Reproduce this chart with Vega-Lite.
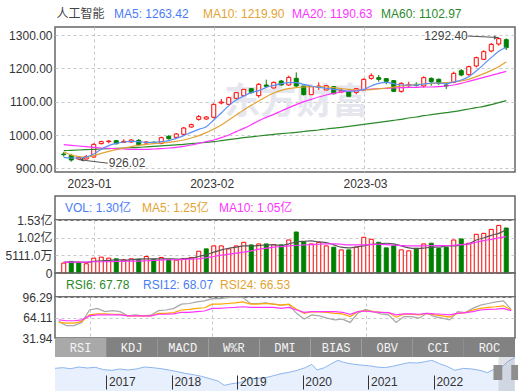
{
"$schema": "https://vega.github.io/schema/vega-lite/v6.json",
"background": "white",
"padding": {"left": 4, "top": 0, "right": 1, "bottom": 0},
"spacing": 0,
"bounds": "flush",
"config": {
  "view": {"stroke": "#666666", "strokeWidth": 1.5},
  "font": "Liberation Sans, Noto Sans CJK SC",
  "axis": {"domain": false, "ticks": false, "tickSize": 0, "labelFont": "Liberation Sans, Noto Sans CJK SC", "labelFontSize": 12, "labelColor": "#333333", "labelPadding": 3, "labelOverlap": false, "labelBound": false, "gridColor": "#c8c8c8", "gridDash": [3, 3], "gridWidth": 1},
  "axisY": {"labelFlush": false},
  "text": {"font": "Liberation Sans, Noto Sans CJK SC", "fontSize": 12}
},
"datasets": {
"k": [
{"i":0,"d":"2022-12-27","o":943,"h":949,"l":935,"c":941,"v":0.287,"vu":"up","m5":933,"m10":950,"m20":971,"m60":953,"vm5":0.316,"vm10":0.306,"r6":58.0,"r12":56.4,"r24":60.5},
{"i":1,"d":"2022-12-28","o":939,"h":942,"l":920,"c":925,"v":0.335,"vu":"dn","m5":931,"m10":940,"m20":969,"m60":954,"vm5":0.316,"vm10":0.316,"r6":51.3,"r12":55.4,"r24":59.0},
{"i":2,"d":"2022-12-29","o":928,"h":936,"l":926.02,"c":933,"v":0.306,"vu":"dn","m5":931,"m10":935,"m20":967,"m60":955,"vm5":0.316,"vm10":0.316,"r6":51.3,"r12":55.4,"r24":59.0},
{"i":3,"d":"2022-12-30","o":928,"h":940,"l":927,"c":935,"v":0.268,"vu":"up","m5":934,"m10":933,"m20":965,"m60":956,"vm5":0.306,"vm10":0.316,"r6":56.4,"r12":58.0,"r24":60.5},
{"i":4,"d":"2023-01-03","o":934,"h":975,"l":932,"c":972,"v":0.43,"vu":"up","m5":943,"m10":938,"m20":963,"m60":957,"vm5":0.335,"vm10":0.325,"r6":75.9,"r12":68.2,"r24":66.7},
{"i":5,"d":"2023-01-04","o":974,"h":983,"l":972,"c":980,"v":0.459,"vu":"up","m5":957,"m10":945,"m20":961,"m60":958,"vm5":0.354,"vm10":0.325,"r6":78.4,"r12":69.7,"r24":68.2},
{"i":6,"d":"2023-01-05","o":980,"h":984,"l":975,"c":982,"v":0.43,"vu":"up","m5":968,"m10":951,"m20":960,"m60":959,"vm5":0.363,"vm10":0.325,"r6":73.3,"r12":69.7,"r24":68.2},
{"i":7,"d":"2023-01-06","o":983,"h":985,"l":971,"c":974,"v":0.411,"vu":"dn","m5":975,"m10":956,"m20":959,"m60":960,"vm5":0.383,"vm10":0.335,"r6":74.8,"r12":69.2,"r24":68.2},
{"i":8,"d":"2023-01-09","o":978,"h":987,"l":976,"c":981,"v":0.383,"vu":"up","m5":979,"m10":961,"m20":958,"m60":961,"vm5":0.373,"vm10":0.335,"r6":73.3,"r12":69.2,"r24":68.2},
{"i":9,"d":"2023-01-10","o":979,"h":987,"l":977,"c":985,"v":0.411,"vu":"up","m5":981,"m10":965,"m20":957,"m60":962,"vm5":0.383,"vm10":0.344,"r6":66.7,"r12":66.7,"r24":66.7},
{"i":10,"d":"2023-01-11","o":984,"h":988,"l":968,"c":971,"v":0.40,"vu":"dn","m5":980,"m10":969,"m20":957,"m60":963,"vm5":0.402,"vm10":0.344,"r6":68.2,"r12":66.7,"r24":66.7},
{"i":11,"d":"2023-01-12","o":976,"h":982,"l":974,"c":979,"v":0.478,"vu":"up","m5":978,"m10":972,"m20":957,"m60":964.5,"vm5":0.411,"vm10":0.354,"r6":66.7,"r12":66.7,"r24":66.7},
{"i":12,"d":"2023-01-13","o":978,"h":981,"l":973,"c":976,"v":0.40,"vu":"dn","m5":978,"m10":974,"m20":958,"m60":966,"vm5":0.411,"vm10":0.363,"r6":67.7,"r12":66.7,"r24":66.7},
{"i":13,"d":"2023-01-16","o":975,"h":995,"l":972,"c":992,"v":0.449,"vu":"up","m5":980,"m10":976,"m20":959,"m60":967.5,"vm5":0.411,"vm10":0.373,"r6":74.8,"r12":70.7,"r24":69.2},
{"i":14,"d":"2023-01-17","o":996,"h":1000,"l":986,"c":989,"v":0.383,"vu":"dn","m5":983,"m10":978,"m20":961,"m60":969,"vm5":0.411,"vm10":0.383,"r6":75.9,"r12":70.7,"r24":69.2},
{"i":15,"d":"2023-01-18","o":993,"h":1006,"l":991,"c":1003,"v":0.373,"vu":"up","m5":990,"m10":981,"m20":963,"m60":970.5,"vm5":0.402,"vm10":0.383,"r6":78.4,"r12":71.8,"r24":69.7},
{"i":16,"d":"2023-01-19","o":1002,"h":1024,"l":1000,"c":1021,"v":0.42,"vu":"up","m5":998,"m10":985,"m20":966,"m60":972,"vm5":0.411,"vm10":0.392,"r6":85.1,"r12":75.9,"r24":72.3},
{"i":17,"d":"2023-01-20","o":1024,"h":1034,"l":1022,"c":1031,"v":0.449,"vu":"up","m5":1008,"m10":991,"m20":970,"m60":974,"vm5":0.43,"vm10":0.402,"r6":86.1,"r12":76.9,"r24":72.3},
{"i":18,"d":"2023-01-30","o":1047,"h":1060,"l":1043,"c":1055,"v":0.631,"vu":"up","m5":1017,"m10":998,"m20":975,"m60":976,"vm5":0.478,"vm10":0.411,"r6":88.6,"r12":78.4,"r24":73.3},
{"i":19,"d":"2023-01-31","o":1048,"h":1057,"l":1046,"c":1054,"v":0.698,"vu":"dn","m5":1025,"m10":1007,"m20":980,"m60":978,"vm5":0.526,"vm10":0.44,"r6":90.2,"r12":79.4,"r24":74.3},
{"i":20,"d":"2023-02-01","o":1053,"h":1095,"l":1050,"c":1092,"v":0.784,"vu":"up","m5":1045,"m10":1018,"m20":985,"m60":980,"vm5":0.602,"vm10":0.478,"r6":93.7,"r12":85.1,"r24":78.4},
{"i":21,"d":"2023-02-02","o":1096,"h":1108,"l":1092,"c":1099,"v":0.784,"vu":"up","m5":1066,"m10":1030,"m20":992,"m60":983,"vm5":0.669,"vm10":0.516,"r6":93.7,"r12":85.1,"r24":78.4},
{"i":22,"d":"2023-02-03","o":1092,"h":1115,"l":1090,"c":1112,"v":0.698,"vu":"up","m5":1088,"m10":1045,"m20":1000,"m60":986,"vm5":0.717,"vm10":0.545,"r6":95.3,"r12":86.1,"r24":79.4},
{"i":23,"d":"2023-02-06","o":1110,"h":1130,"l":1107,"c":1127,"v":0.784,"vu":"up","m5":1105,"m10":1060,"m20":1010,"m60":989,"vm5":0.746,"vm10":0.574,"r6":96.3,"r12":87.1,"r24":79.9},
{"i":24,"d":"2023-02-07","o":1118,"h":1142,"l":1115,"c":1137,"v":0.889,"vu":"up","m5":1117,"m10":1075,"m20":1020,"m60":992,"vm5":0.784,"vm10":0.602,"r6":95.3,"r12":88.6,"r24":81.0},
{"i":25,"d":"2023-02-08","o":1139,"h":1141,"l":1124,"c":1127,"v":0.813,"vu":"dn","m5":1127,"m10":1089,"m20":1031,"m60":994.5,"vm5":0.784,"vm10":0.641,"r6":86.1,"r12":85.1,"r24":79.9},
{"i":26,"d":"2023-02-09","o":1118,"h":1156,"l":1112,"c":1152,"v":0.841,"vu":"up","m5":1133,"m10":1102,"m20":1043,"m60":997,"vm5":0.794,"vm10":0.689,"r6":86.1,"r12":85.1,"r24":79.9},
{"i":27,"d":"2023-02-10","o":1150,"h":1166,"l":1143,"c":1146,"v":0.841,"vu":"dn","m5":1143,"m10":1115,"m20":1053,"m60":999.5,"vm5":0.813,"vm10":0.717,"r6":87.1,"r12":86.1,"r24":79.9},
{"i":28,"d":"2023-02-13","o":1141,"h":1160,"l":1139,"c":1158,"v":0.822,"vu":"up","m5":1149,"m10":1126,"m20":1062,"m60":1002,"vm5":0.813,"vm10":0.746,"r6":85.1,"r12":85.1,"r24":79.9},
{"i":29,"d":"2023-02-14","o":1162,"h":1165,"l":1147,"c":1150,"v":0.813,"vu":"dn","m5":1154,"m10":1134,"m20":1072,"m60":1004,"vm5":0.803,"vm10":0.765,"r6":83.5,"r12":83.5,"r24":78.4},
{"i":30,"d":"2023-02-15","o":1150,"h":1178,"l":1148,"c":1173,"v":0.956,"vu":"up","m5":1157,"m10":1139,"m20":1082,"m60":1006,"vm5":0.842,"vm10":0.784,"r6":84.5,"r12":85.1,"r24":79.9},
{"i":31,"d":"2023-02-16","o":1170,"h":1188,"l":1143,"c":1147,"v":1.186,"vu":"dn","m5":1157,"m10":1142,"m20":1091,"m60":1008,"vm5":0.899,"vm10":0.803,"r6":70.7,"r12":76.9,"r24":75.9},
{"i":32,"d":"2023-02-17","o":1147,"h":1149,"l":1118,"c":1121,"v":0.908,"vu":"dn","m5":1152,"m10":1144,"m20":1100,"m60":1010.5,"vm5":0.918,"vm10":0.813,"r6":61.6,"r12":70.7,"r24":72.3},
{"i":33,"d":"2023-02-20","o":1121,"h":1150,"l":1116,"c":1145,"v":0.841,"vu":"up","m5":1147,"m10":1145,"m20":1107,"m60":1013,"vm5":0.928,"vm10":0.822,"r6":68.2,"r12":73.3,"r24":73.3},
{"i":34,"d":"2023-02-21","o":1143,"h":1158,"l":1133,"c":1147,"v":0.889,"vu":"up","m5":1143,"m10":1145,"m20":1114,"m60":1015,"vm5":0.899,"vm10":0.832,"r6":66.7,"r12":72.8,"r24":73.3},
{"i":35,"d":"2023-02-22","o":1135,"h":1150,"l":1128,"c":1148,"v":0.784,"vu":"up","m5":1140,"m10":1144,"m20":1120,"m60":1018,"vm5":0.88,"vm10":0.842,"r6":63.1,"r12":72.3,"r24":73.3},
{"i":36,"d":"2023-02-23","o":1145,"h":1147,"l":1121,"c":1124,"v":0.746,"vu":"dn","m5":1137,"m10":1142,"m20":1125,"m60":1020.5,"vm5":0.813,"vm10":0.842,"r6":60.5,"r12":70.7,"r24":73.3},
{"i":37,"d":"2023-02-24","o":1129,"h":1140,"l":1125,"c":1134,"v":0.669,"vu":"up","m5":1135,"m10":1139,"m20":1129,"m60":1023,"vm5":0.746,"vm10":0.832,"r6":61.6,"r12":69.7,"r24":72.3},
{"i":38,"d":"2023-02-27","o":1129,"h":1132,"l":1112,"c":1116,"v":0.669,"vu":"dn","m5":1131,"m10":1137,"m20":1132,"m60":1026,"vm5":0.727,"vm10":0.813,"r6":56.4,"r12":65.6,"r24":69.2},
{"i":39,"d":"2023-02-28","o":1128,"h":1142,"l":1122,"c":1139,"v":0.746,"vu":"up","m5":1132,"m10":1135,"m20":1134,"m60":1029,"vm5":0.755,"vm10":0.813,"r6":70.7,"r12":73.3,"r24":73.3},
{"i":40,"d":"2023-03-01","o":1135,"h":1170,"l":1133,"c":1167,"v":1.033,"vu":"up","m5":1137,"m10":1135,"m20":1136,"m60":1032,"vm5":0.784,"vm10":0.813,"r6":76.9,"r12":74.8,"r24":74.3},
{"i":41,"d":"2023-03-02","o":1170,"h":1185,"l":1166,"c":1178,"v":0.975,"vu":"up","m5":1147,"m10":1136,"m20":1138,"m60":1035,"vm5":0.832,"vm10":0.822,"r6":73.3,"r12":73.3,"r24":72.8},
{"i":42,"d":"2023-03-03","o":1172,"h":1180,"l":1160,"c":1167,"v":0.889,"vu":"dn","m5":1155,"m10":1139,"m20":1139,"m60":1038,"vm5":0.842,"vm10":0.832,"r6":69.7,"r12":72.3,"r24":72.3},
{"i":43,"d":"2023-03-06","o":1169,"h":1171,"l":1152,"c":1161,"v":0.727,"vu":"dn","m5":1158,"m10":1141,"m20":1140,"m60":1041,"vm5":0.861,"vm10":0.822,"r6":68.2,"r12":71.8,"r24":71.8},
{"i":44,"d":"2023-03-07","o":1163,"h":1165,"l":1129,"c":1131,"v":0.794,"vu":"dn","m5":1154,"m10":1144,"m20":1141,"m60":1044,"vm5":0.842,"vm10":0.803,"r6":56.4,"r12":64.6,"r24":68.2},
{"i":45,"d":"2023-03-08","o":1131,"h":1158,"l":1127,"c":1155,"v":0.669,"vu":"up","m5":1150,"m10":1147,"m20":1142,"m60":1047,"vm5":0.784,"vm10":0.794,"r6":65.6,"r12":69.2,"r24":69.7},
{"i":46,"d":"2023-03-09","o":1148,"h":1160,"l":1142,"c":1151,"v":0.641,"vu":"up","m5":1150,"m10":1149,"m20":1143,"m60":1051,"vm5":0.727,"vm10":0.784,"r6":65.6,"r12":69.2,"r24":69.7},
{"i":47,"d":"2023-03-10","o":1152,"h":1158,"l":1145,"c":1149,"v":0.717,"vu":"dn","m5":1150,"m10":1151,"m20":1143,"m60":1054,"vm5":0.708,"vm10":0.784,"r6":63.1,"r12":68.2,"r24":69.2},
{"i":48,"d":"2023-03-13","o":1147,"h":1176,"l":1142,"c":1172,"v":0.841,"vu":"up","m5":1153,"m10":1153,"m20":1144,"m60":1058,"vm5":0.717,"vm10":0.784,"r6":70.7,"r12":70.7,"r24":70.7},
{"i":49,"d":"2023-03-14","o":1170,"h":1173,"l":1148,"c":1160,"v":0.861,"vu":"dn","m5":1156,"m10":1155,"m20":1144,"m60":1061,"vm5":0.746,"vm10":0.794,"r6":65.6,"r12":68.2,"r24":69.7},
{"i":50,"d":"2023-03-15","o":1167,"h":1170,"l":1150,"c":1155,"v":0.708,"vu":"dn","m5":1156,"m10":1156,"m20":1145,"m60":1064,"vm5":0.746,"vm10":0.794,"r6":63.1,"r12":66.7,"r24":69.2},
{"i":51,"d":"2023-03-16","o":1150,"h":1157,"l":1138,"c":1147,"v":0.746,"vu":"dn","m5":1154,"m10":1157,"m20":1147,"m60":1067,"vm5":0.784,"vm10":0.794,"r6":60.5,"r12":64.6,"r24":68.2},
{"i":52,"d":"2023-03-17","o":1158,"h":1190,"l":1155,"c":1185,"v":0.956,"vu":"up","m5":1159,"m10":1159,"m20":1150,"m60":1070,"vm5":0.784,"vm10":0.803,"r6":73.3,"r12":70.7,"r24":70.7},
{"i":53,"d":"2023-03-20","o":1193,"h":1198,"l":1176,"c":1180,"v":0.985,"vu":"dn","m5":1165,"m10":1162,"m20":1155,"m60":1074,"vm5":0.813,"vm10":0.822,"r6":71.8,"r12":71.8,"r24":71.8},
{"i":54,"d":"2023-03-21","o":1181,"h":1208,"l":1178,"c":1205,"v":0.861,"vu":"up","m5":1175,"m10":1167,"m20":1161,"m60":1078,"vm5":0.842,"vm10":0.842,"r6":78.4,"r12":75.9,"r24":73.3},
{"i":55,"d":"2023-03-22","o":1207,"h":1235,"l":1203,"c":1232,"v":1.119,"vu":"up","m5":1192,"m10":1175,"m20":1167,"m60":1082,"vm5":0.956,"vm10":0.889,"r6":83.5,"r12":78.4,"r24":75.9},
{"i":56,"d":"2023-03-23","o":1227,"h":1254,"l":1225,"c":1250,"v":1.148,"vu":"up","m5":1212,"m10":1184,"m20":1173,"m60":1086,"vm5":1.014,"vm10":0.937,"r6":86.1,"r12":79.9,"r24":76.9},
{"i":57,"d":"2023-03-24","o":1252,"h":1276,"l":1248,"c":1272,"v":1.262,"vu":"up","m5":1232,"m10":1194,"m20":1179,"m60":1091,"vm5":1.09,"vm10":0.975,"r6":88.6,"r12":81.0,"r24":77.4},
{"i":58,"d":"2023-03-27","o":1273,"h":1292.4,"l":1268,"c":1289,"v":1.377,"vu":"up","m5":1251,"m10":1205,"m20":1185,"m60":1097,"vm5":1.148,"vm10":1.014,"r6":90.2,"r12":82.5,"r24":78.4},
{"i":59,"d":"2023-03-28","o":1286,"h":1290,"l":1255,"c":1262,"v":1.301,"vu":"dn","m5":1263.42,"m10":1219.9,"m20":1190.63,"m60":1102.97,"vm5":1.253,"vm10":1.052,"r6":76.9,"r12":75.9,"r24":74.8}
],
"nav": [
{"d":"2016-03-20","v":68},{"d":"2016-05-01","v":70},{"d":"2016-06-15","v":67},{"d":"2016-08-01","v":72},{"d":"2016-09-15","v":69},{"d":"2016-11-01","v":71},{"d":"2016-12-15","v":64},
{"d":"2017-02-01","v":62},{"d":"2017-03-15","v":66},{"d":"2017-05-01","v":63},{"d":"2017-06-15","v":66},{"d":"2017-08-01","v":72},{"d":"2017-09-15","v":70},{"d":"2017-11-01","v":67},{"d":"2017-12-15","v":63},
{"d":"2018-02-01","v":58},{"d":"2018-03-15","v":53},{"d":"2018-05-01","v":49},{"d":"2018-06-15","v":44},{"d":"2018-08-01","v":37},{"d":"2018-09-15","v":30},{"d":"2018-10-20","v":17},{"d":"2018-12-01","v":22},
{"d":"2019-01-15","v":25},{"d":"2019-03-01","v":36},{"d":"2019-04-15","v":38},{"d":"2019-06-01","v":39},{"d":"2019-07-15","v":45},{"d":"2019-09-01","v":52},{"d":"2019-10-15","v":56},{"d":"2019-12-01","v":62},
{"d":"2020-01-15","v":70},{"d":"2020-02-20","v":80},{"d":"2020-03-20","v":63},{"d":"2020-05-01","v":70},{"d":"2020-06-15","v":84},{"d":"2020-07-15","v":92},{"d":"2020-08-15","v":86},{"d":"2020-10-01","v":81},{"d":"2020-11-15","v":78},
{"d":"2021-01-01","v":76},{"d":"2021-02-15","v":72},{"d":"2021-04-01","v":70},{"d":"2021-05-15","v":74},{"d":"2021-07-01","v":80},{"d":"2021-08-15","v":85},{"d":"2021-10-01","v":84},{"d":"2021-11-15","v":88},{"d":"2021-12-20","v":92},
{"d":"2022-02-01","v":82},{"d":"2022-03-15","v":74},{"d":"2022-04-27","v":62},{"d":"2022-06-15","v":68},{"d":"2022-08-01","v":66},{"d":"2022-09-15","v":62},{"d":"2022-10-25","v":55},{"d":"2022-12-01","v":65},
{"d":"2023-01-15","v":72},{"d":"2023-02-15","v":88},{"d":"2023-03-28","v":100}
]
},
"vconcat": [
{
  "width": 460, "height": 27, "view": {"stroke": null},
  "layer": [
    {"data": {"values": [{"k": "人工智能"}]},
     "mark": {"type": "text", "align": "left", "color": "#444444"},
     "encoding": {"x": {"field": "k", "type": "nominal", "scale": {"type": "point", "range": [1, 2]}, "axis": null}, "text": {"field": "k"}}},
    {"data": {"values": [{"k": "MA5: 1263.42"}, {"k": "MA10: 1219.90"}, {"k": "MA20: 1190.63"}, {"k": "MA60: 1102.97"}]},
     "mark": {"type": "text", "align": "left"},
     "encoding": {"x": {"field": "k", "type": "nominal", "sort": null, "scale": {"type": "point", "range": [59, 326], "padding": 0}, "axis": null},
                  "text": {"field": "k"},
                  "color": {"field": "k", "type": "nominal", "sort": null, "scale": {"range": ["#4a7cf6", "#e3a332", "#ff33ff", "#2a8a2a"]}, "legend": null}}}
  ],
  "resolve": {"scale": {"x": "independent"}}
},
{
  "width": 460, "height": 145,
  "data": {"name": "k"},
  "encoding": {"x": {"field": "i", "type": "quantitative", "scale": {"domain": [-0.5, 59.5], "nice": false, "zero": false}, "axis": {"values": [4, 20, 40], "tickCount": 20, "labels": false, "grid": true}, "title": null}},
  "layer": [
    {"mark": {"type": "rule", "strokeWidth": 1},
     "encoding": {"y": {"field": "l", "type": "quantitative", "scale": {"domain": [889, 1324], "nice": false, "zero": false}, "axis": {"values": [900, 1000, 1100, 1200, 1300], "tickCount": 20, "format": ".2f", "grid": true}, "title": null},
                  "y2": {"field": "h"},
                  "color": {"condition": {"test": "datum.c >= datum.o", "value": "#ff0000"}, "value": "#008000"}}},
    {"data": {"values": [{"w": "东方财富", "wx": 31, "wy": 1095}]},
     "mark": {"type": "text", "font": "Noto Sans CJK SC", "fontSize": 36, "fontWeight": "bold", "color": "#e6e7ee"},
     "encoding": {"x": {"field": "wx", "type": "quantitative"}, "y": {"field": "wy", "type": "quantitative", "title": null}, "text": {"field": "w"}}},
    {"mark": {"type": "bar", "size": 4, "strokeWidth": 1},
     "encoding": {"y": {"field": "o", "type": "quantitative", "title": null},
                  "y2": {"field": "c"},
                  "fill": {"condition": {"test": "datum.c > datum.o", "value": "#ffffff"}, "value": "#008000"},
                  "stroke": {"condition": {"test": "datum.c >= datum.o", "value": "#ff0000"}, "value": "#008000"}}},
    {"mark": {"type": "line", "color": "#2a8a2a", "strokeWidth": 1.2, "interpolate": "monotone"},
     "encoding": {"y": {"field": "m60", "type": "quantitative", "title": null}}},
    {"mark": {"type": "line", "color": "#ff33ff", "strokeWidth": 1.2, "interpolate": "monotone"},
     "encoding": {"y": {"field": "m20", "type": "quantitative", "title": null}}},
    {"mark": {"type": "line", "color": "#e3a332", "strokeWidth": 1.2, "interpolate": "monotone"},
     "encoding": {"y": {"field": "m10", "type": "quantitative", "title": null}}},
    {"mark": {"type": "line", "color": "#5b8ef7", "strokeWidth": 1.2, "interpolate": "monotone"},
     "encoding": {"y": {"field": "m5", "type": "quantitative", "title": null}}},
    {"data": {"values": [{"i": 2, "p": 926.02, "t": "926.02"}]},
     "layer": [
       {"mark": {"type": "rule", "color": "#555555", "strokeWidth": 1, "x2Offset": 29, "y2Offset": 3.5},
        "encoding": {"y": {"field": "p", "type": "quantitative", "title": null}, "x2": {"field": "i"}, "y2": {"field": "p"}}},
       {"mark": {"type": "point", "shape": "triangle-left", "filled": true, "size": 18, "color": "#555555", "xOffset": 3, "opacity": 1},
        "encoding": {"y": {"field": "p", "type": "quantitative", "title": null}}},
       {"mark": {"type": "text", "align": "left", "dx": 30, "dy": 3.5, "color": "#444444", "fontSize": 12},
        "encoding": {"y": {"field": "p", "type": "quantitative", "title": null}, "text": {"field": "t"}}}
     ]},
    {"data": {"values": [{"i": 58, "p": 1292.4, "t": "1292.40"}]},
     "layer": [
       {"mark": {"type": "rule", "color": "#555555", "strokeWidth": 1, "x2Offset": -31, "y2Offset": -1.5},
        "encoding": {"y": {"field": "p", "type": "quantitative", "title": null}, "x2": {"field": "i"}, "y2": {"field": "p"}}},
       {"mark": {"type": "point", "shape": "triangle-right", "filled": true, "size": 18, "color": "#555555", "xOffset": -3, "opacity": 1},
        "encoding": {"y": {"field": "p", "type": "quantitative", "title": null}}},
       {"mark": {"type": "text", "align": "right", "dx": -31, "dy": -1.5, "color": "#444444", "fontSize": 12},
        "encoding": {"y": {"field": "p", "type": "quantitative", "title": null}, "text": {"field": "t"}}}
     ]}
  ]
},
{
  "width": 460, "height": 24, "view": {"stroke": null},
  "data": {"values": [{"i": 4, "m": "2023-01"}, {"i": 20, "m": "2023-02"}, {"i": 40, "m": "2023-03"}]},
  "mark": {"type": "text", "fontSize": 12, "color": "#333333"},
  "encoding": {"x": {"field": "i", "type": "quantitative", "scale": {"domain": [-0.5, 59.5], "nice": false, "zero": false}, "axis": null}, "text": {"field": "m"}}
},
{
  "width": 460, "height": 24,
  "data": {"values": [{"k": "VOL: 1.30亿"}, {"k": "MA5: 1.25亿"}, {"k": "MA10: 1.05亿"}]},
  "mark": {"type": "text", "align": "left"},
  "encoding": {"x": {"field": "k", "type": "nominal", "sort": null, "scale": {"type": "point", "range": [10, 164], "padding": 0}, "axis": null},
               "text": {"field": "k"},
               "color": {"field": "k", "type": "nominal", "sort": null, "scale": {"range": ["#ff70ff", "#444444", "#ff33ff"]}, "legend": null}}
},
{
  "width": 460, "height": 53,
  "data": {"name": "k"},
  "encoding": {"x": {"field": "i", "type": "quantitative", "scale": {"domain": [-0.5, 59.5], "nice": false, "zero": false}, "axis": {"values": [4, 20, 40], "tickCount": 20, "labels": false, "grid": true}, "title": null}},
  "layer": [
    {"mark": {"type": "bar", "size": 4, "strokeWidth": 1},
     "encoding": {"y": {"field": "v", "type": "quantitative", "scale": {"domain": [0, 1.5333], "nice": false}, "axis": {"values": [0, 0.5111, 1.0222, 1.5333], "tickCount": 20, "grid": true, "labelExpr": "datum.value == 0 ? '0' : (datum.value >= 1 ? format(datum.value, '.2f') + '亿' : format(datum.value * 10000, '.1f') + '万')"}, "title": null},
                  "fill": {"condition": {"test": "datum.vu == 'up'", "value": "#ffffff"}, "value": "#008000"},
                  "stroke": {"condition": {"test": "datum.vu == 'up'", "value": "#ff0000"}, "value": "#008000"}}},
    {"mark": {"type": "line", "color": "#555555", "strokeWidth": 1.2, "interpolate": "monotone"},
     "encoding": {"y": {"field": "vm5", "type": "quantitative", "title": null}}},
    {"mark": {"type": "line", "color": "#ff33ff", "strokeWidth": 1.2, "interpolate": "monotone"},
     "encoding": {"y": {"field": "vm10", "type": "quantitative", "title": null}}}
  ]
},
{
  "width": 460, "height": 24,
  "data": {"values": [{"k": "RSI6: 67.78"}, {"k": "RSI12: 68.07"}, {"k": "RSI24: 66.53"}]},
  "mark": {"type": "text", "align": "left"},
  "encoding": {"x": {"field": "k", "type": "nominal", "sort": null, "scale": {"type": "point", "range": [11, 165], "padding": 0}, "axis": null},
               "text": {"field": "k"},
               "color": {"field": "k", "type": "nominal", "sort": null, "scale": {"range": ["#a0a0a0", "#ffa500", "#ff33ff"]}, "legend": null}}
},
{
  "width": 460, "height": 41,
  "data": {"name": "k"},
  "encoding": {"x": {"field": "i", "type": "quantitative", "scale": {"domain": [-0.5, 59.5], "nice": false, "zero": false}, "axis": {"values": [4, 20, 40], "tickCount": 20, "labels": false, "grid": true}, "title": null}},
  "layer": [
    {"mark": {"type": "line", "color": "#a8a8a8", "strokeWidth": 1.2},
     "encoding": {"y": {"field": "r6", "type": "quantitative", "scale": {"domain": [31.94, 96.29], "nice": false, "zero": false}, "axis": {"values": [31.94, 64.11, 96.29], "tickCount": 20, "format": ".2f", "grid": true}, "title": null}}},
    {"mark": {"type": "line", "color": "#ffa500", "strokeWidth": 1.2},
     "encoding": {"y": {"field": "r12", "type": "quantitative", "title": null}}},
    {"mark": {"type": "line", "color": "#ff33ff", "strokeWidth": 1.2},
     "encoding": {"y": {"field": "r24", "type": "quantitative", "title": null}}}
  ]
},
{
  "width": 460, "height": 19, "view": {"stroke": null},
  "data": {"values": [{"t": "RSI"}, {"t": "KDJ"}, {"t": "MACD"}, {"t": "W%R"}, {"t": "DMI"}, {"t": "BIAS"}, {"t": "OBV"}, {"t": "CCI"}, {"t": "ROC"}]},
  "encoding": {"x": {"field": "t", "type": "nominal", "sort": null, "scale": {"type": "band", "paddingInner": 0, "paddingOuter": 0}, "axis": null}},
  "layer": [
    {"mark": {"type": "bar"},
     "encoding": {"fill": {"condition": {"test": "datum.t == 'RSI'", "value": "#a9a9a9"}, "value": "#828282"}}},
    {"mark": {"type": "text", "font": "Liberation Mono", "fontSize": 12, "color": "#f4f4f4"},
     "encoding": {"x": {"field": "t", "type": "nominal", "sort": null, "bandPosition": 0.5, "axis": null}, "text": {"field": "t"}}}
  ]
},
{
  "width": 460, "height": 34, "view": {"stroke": null},
  "layer": [
    {"data": {"name": "nav"},
     "mark": {"type": "area", "color": "#dde9fb", "line": {"color": "#8db5ef", "strokeWidth": 1}},
     "encoding": {"x": {"field": "d", "type": "temporal",
                        "scale": {"domain": [{"year": 2016, "month": 3, "date": 20, "utc": true}, {"year": 2023, "month": 3, "date": 29, "utc": true}]},
                        "axis": {"values": [{"year": 2017, "month": 1, "date": 1, "utc": true}, {"year": 2018, "month": 1, "date": 1, "utc": true}, {"year": 2019, "month": 1, "date": 1, "utc": true}, {"year": 2020, "month": 1, "date": 1, "utc": true}, {"year": 2021, "month": 1, "date": 1, "utc": true}, {"year": 2022, "month": 1, "date": 1, "utc": true}],
                                 "tickCount": 20,
                                 "labelExpr": "utcFormat(datum.value, '%Y')", "labelAlign": "left", "labelBaseline": "middle", "labelOffset": 2, "labelColor": "#333333",
                                 "ticks": true, "tickSize": 14, "tickColor": "#333333", "tickWidth": 1, "offset": -16, "labelPadding": -8,
                                 "grid": false, "domain": false, "labelFlush": false, "labelOverlap": false, "zindex": 1}, "title": null},
                  "y": {"field": "v", "type": "quantitative", "scale": {"domain": [0, 102], "nice": false}, "axis": null}}},
    {"data": {"values": [{"s": "2022-12-27", "e": "2023-03-28"}]},
     "mark": {"type": "rect", "color": "#9aa0a8", "opacity": 0.3},
     "encoding": {"x": {"field": "s", "type": "temporal"}, "x2": {"field": "e"}, "y": {"datum": 0, "type": "quantitative"}, "y2": {"datum": 102}}},
    {"data": {"values": [{"s": "2022-11-29", "e": "2023-01-17"}, {"s": "2023-03-08", "e": "2023-04-15"}]},
     "mark": {"type": "rect", "color": "#8e8e8e", "clip": false},
     "encoding": {"x": {"field": "s", "type": "temporal"}, "x2": {"field": "e"}, "y": {"datum": 33, "type": "quantitative"}, "y2": {"datum": 78}}}
  ]
}
]
}
